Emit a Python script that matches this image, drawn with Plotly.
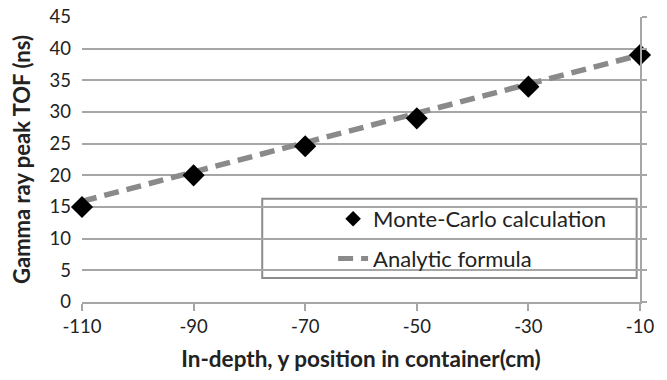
import plotly.graph_objects as go

positions = [-110, -90, -70, -50, -30, -10]
monte_carlo = [15.0, 20.0, 24.6, 29.0, 34.0, 39.0]
analytic = [15.9, 20.6, 25.2, 29.8, 34.4, 39.0]
y_ticks = [0, 5, 10, 15, 20, 25, 30, 35, 40, 45]

FONT = "Lato"
GRID = "#a6a6a6"
TXT = "#222"

fig = go.Figure()
fig.add_trace(go.Scatter(
    x=positions, y=analytic, mode="lines", name="Analytic formula",
    line=dict(color="#8a8a8a", width=5.5, dash="15px,8px"),
    cliponaxis=False, legendgroup="b", legendrank=2,
))
fig.add_trace(go.Scatter(
    x=positions, y=monte_carlo, mode="markers", name="Monte-Carlo calculation",
    marker=dict(symbol="diamond", color="black", size=17),
    cliponaxis=False, legendgroup="a", legendrank=1,
))
fig.add_trace(go.Scatter(x=[-10], y=[0], yaxis="y2", mode="markers",
                         marker=dict(opacity=0), showlegend=False, hoverinfo="skip"))

fig.update_layout(
    width=667, height=380,
    margin=dict(l=82, r=27, t=17, b=78),
    plot_bgcolor="white", paper_bgcolor="white",
    font=dict(family=FONT, color=TXT),
    showlegend=True,
    legend=dict(
        x=0.45, y=0.365, xanchor="left", yanchor="top",
        bgcolor="rgba(0,0,0,0)", borderwidth=0,
        font=dict(family=FONT, size=22, color=TXT),
        traceorder="grouped", itemsizing="constant",
        tracegroupgap=8,
    ),
    xaxis=dict(
        range=[-110, -10], tickvals=positions, ticktext=[str(p) for p in positions],
        showgrid=False, zeroline=False, automargin=False,
        showline=True, linecolor=GRID, linewidth=2,
        ticks="outside", ticklen=7, tickcolor=GRID, tickwidth=2,
        ticklabelstandoff=0,
        tickfont=dict(family=FONT, size=18.5, color=TXT),
        title=dict(text="<b>In-depth, y position in container(cm)</b>",
                   font=dict(family=FONT, size=22.5, color=TXT), standoff=15),
    ),
    yaxis=dict(
        range=[0, 45], tickvals=y_ticks, automargin=False,
        showgrid=True, gridcolor=GRID, gridwidth=1.5,
        zeroline=False, showline=False, ticks="",
        ticklabelstandoff=10,
        tickfont=dict(family=FONT, size=18.5, color=TXT),
        title=dict(text="<b>Gamma ray peak TOF (ns)</b>",
                   font=dict(family=FONT, size=22, color=TXT), standoff=12),
    ),
    yaxis2=dict(
        range=[0, 45], tickvals=y_ticks, overlaying="y", side="right",
        showgrid=False, zeroline=False, showticklabels=False, automargin=False,
        showline=True, linecolor=GRID, linewidth=2,
        ticks="outside", ticklen=5, tickcolor=GRID, tickwidth=1.5,
    ),
    shapes=[dict(
        type="rect", xref="x", yref="y",
        x0=-77.7, x1=-10.6, y0=3.8, y1=16.3,
        line=dict(color="#8c8c8c", width=2), fillcolor="white", layer="below",
    )],
)

fig.write_html("out.html", config={"displayModeBar": False},
               post_script="document.body.style.margin='0';")
